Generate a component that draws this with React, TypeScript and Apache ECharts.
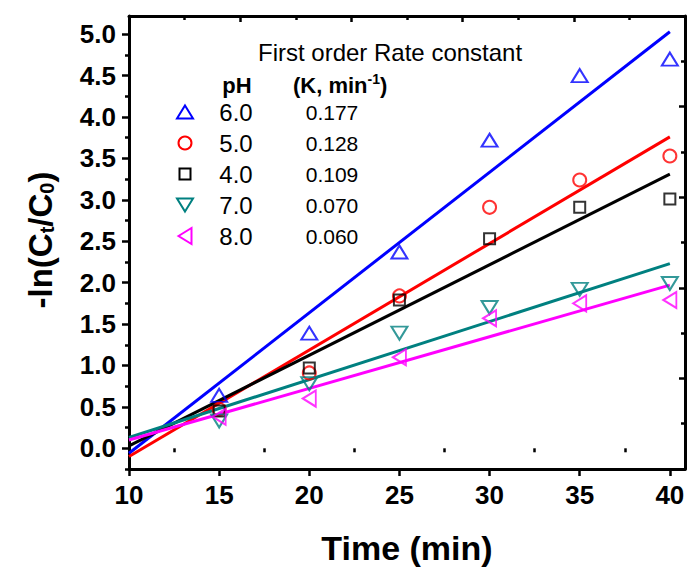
import React, { useEffect, useRef } from 'react';
import * as echarts from 'echarts';

// ---- data ----
const timeMin = [15, 20, 25, 30, 35, 40];
const phLabels = ['6.0', '5.0', '4.0', '7.0', '8.0'];
const rateLabels = ['0.177', '0.128', '0.109', '0.070', '0.060'];
const ph6 = [0.64, 1.39, 2.37, 3.72, 4.5, 4.7];
const ph5 = [0.47, 0.91, 1.84, 2.91, 3.24, 3.53];
const ph4 = [0.45, 0.97, 1.79, 2.53, 2.91, 3.01];
const ph7 = [0.33, 0.78, 1.39, 1.7, 1.92, 1.99];
const ph8 = [0.38, 0.6, 1.1, 1.57, 1.75, 1.79];
const fitX = [10, 40];
const fitStart = [-0.06, -0.1, 0.03, 0.13, 0.1];
const fitEnd = [5.03, 3.76, 3.31, 2.23, 1.97];
const xMajor = [10, 15, 20, 25, 30, 35, 40];
const xMinor = [12.5, 17.5, 22.5, 27.5, 32.5, 37.5];
const yMajor = [0, 0.5, 1, 1.5, 2, 2.5, 3, 3.5, 4, 4.5, 5];
const yMinor = [-0.25, 0.25, 0.75, 1.25, 1.75, 2.25, 2.75, 3.25, 3.75, 4.25, 4.75];

const seriesValues = [ph6, ph5, ph4, ph7, ph8];
const colors = ['#0000FF', '#FF0000', '#000000', '#008080', '#FF00FF'];
const symbols = ['triangle', 'circle', 'rect', 'triangle', 'triangle'];
const symbolSizes: any[] = [[16, 13], 13, 11, [16, 13], [16, 13]];
const symbolRotates = [0, 0, 0, 180, 90];

const FONT = '"Liberation Sans", Arial, Helvetica, sans-serif';

function legendMarker(kind: number, cx: number, cy: number, color: string) {
  const style = { fill: 'none', stroke: color, lineWidth: 2 };
  if (kind === 1) return { type: 'circle', shape: { cx, cy, r: 6.5 }, style };
  if (kind === 2) return { type: 'rect', shape: { x: cx - 5.5, y: cy - 5.5, width: 11, height: 11 }, style };
  let pts: number[][];
  if (kind === 0) pts = [[cx, cy - 6.5], [cx + 8, cy + 6.5], [cx - 8, cy + 6.5]];
  else if (kind === 3) pts = [[cx, cy + 6.5], [cx + 8, cy - 6.5], [cx - 8, cy - 6.5]];
  else pts = [[cx - 6.5, cy], [cx + 6.5, cy - 8], [cx + 6.5, cy + 8]];
  return { type: 'polygon', shape: { points: pts }, style };
}

export default function App() {
  const ref = useRef<HTMLDivElement>(null);
  useEffect(() => {
    const chart = echarts.init(ref.current!, null, { renderer: 'svg' });
    const gridBox = { left: 129, top: 16, width: 556, height: 453 };
    const axisLine = { show: true, onZero: false, lineStyle: { color: '#000', width: 3 } };

    const series: any[] = [];
    seriesValues.forEach((vals, i) => {
      series.push({
        type: 'line',
        name: 'fit ' + phLabels[i],
        xAxisIndex: 0,
        yAxisIndex: 0,
        data: [[fitX[0], fitStart[i]], [fitX[1], fitEnd[i]]],
        showSymbol: false,
        symbol: 'none',
        lineStyle: { color: colors[i], width: 3 },
        z: 2,
      });
    });
    seriesValues.forEach((vals, i) => {
      series.push({
        type: 'scatter',
        name: 'pH ' + phLabels[i],
        xAxisIndex: 0,
        yAxisIndex: 0,
        data: timeMin.map((t, k) => [t, vals[k]]),
        symbol: symbols[i],
        symbolSize: symbolSizes[i],
        symbolRotate: symbolRotates[i],
        itemStyle: { color: 'rgba(0,0,0,0)', borderColor: colors[i], borderWidth: 2 },
        z: 3,
      });
    });

    const rowY = [112, 143, 174, 205, 236];
    const graphics: any[] = [
      {
        type: 'text', x: 258, y: 52,
        style: { text: 'First order Rate constant', font: `24px ${FONT}`, fill: '#000', verticalAlign: 'middle' },
      },
      {
        type: 'text', x: 237, y: 85,
        style: { text: 'pH', font: `bold 22px ${FONT}`, fill: '#000', align: 'center', verticalAlign: 'middle' },
      },
      {
        type: 'text', x: 293, y: 85,
        style: {
          text: '(K, min{sup|-1})', fill: '#000', verticalAlign: 'middle',
          fontFamily: FONT, fontSize: 22, fontWeight: 'bold', lineHeight: 26,
          rich: { sup: { fontFamily: FONT, fontSize: 14, fontWeight: 'bold', lineHeight: 14, padding: [0, 0, 12, 0], verticalAlign: 'top' } },
        },
      },
      {
        type: 'text', x: 407, y: 548,
        style: { text: 'Time (min)', font: `bold 34px ${FONT}`, fill: '#000', align: 'center', verticalAlign: 'middle' },
      },
      {
        type: 'text', x: 40, y: 240, rotation: Math.PI / 2,
        style: {
          text: '-ln(C{sub|t}/C{sub|0})', fill: '#000', align: 'center', verticalAlign: 'middle',
          fontFamily: FONT, fontSize: 33, fontWeight: 'bold', lineHeight: 34,
          rich: { sub: { fontFamily: FONT, fontSize: 20, fontWeight: 'bold', lineHeight: 20, padding: [16, 0, 0, 0], verticalAlign: 'bottom' } },
        },
      },
    ];
    phLabels.forEach((p, i) => {
      graphics.push(legendMarker(i, 185, rowY[i], colors[i]));
      graphics.push({
        type: 'text', x: 236, y: rowY[i],
        style: { text: p, font: `24px ${FONT}`, fill: '#000', align: 'center', verticalAlign: 'middle' },
      });
      graphics.push({
        type: 'text', x: 332, y: rowY[i],
        style: { text: rateLabels[i], font: `21px ${FONT}`, fill: '#000', align: 'center', verticalAlign: 'middle' },
      });
    });

    const option: any = {
      animation: false,
      backgroundColor: '#fff',
      grid: [
        { ...gridBox, containLabel: false },
        { ...gridBox, containLabel: false },
      ],
      xAxis: [
        {
          gridIndex: 0, type: 'value', position: 'bottom', min: 10, max: 40.84,
          axisLine,
          axisTick: { show: true, customValues: xMajor, length: 7, lineStyle: { color: '#000', width: 2.5 } },
          axisLabel: { customValues: xMajor, color: '#000', fontSize: 26, fontWeight: 'bold', fontFamily: FONT, margin: 13 },
          splitLine: { show: false },
        },
        {
          gridIndex: 0, type: 'value', position: 'top', min: 0, max: 10, interval: 2,
          axisLine,
          axisTick: { show: true, inside: true, length: 6, lineStyle: { color: '#000', width: 2.5 } },
          minorTick: { show: true, splitNumber: 2, length: 4, lineStyle: { color: '#000', width: 2.5 } },
          axisLabel: { show: false },
          splitLine: { show: false },
          minorSplitLine: { show: false },
        },
        {
          gridIndex: 1, type: 'value', position: 'bottom', min: 10, max: 40.84,
          axisLine: { show: false },
          axisTick: { show: true, customValues: xMinor, length: 4, lineStyle: { color: '#000', width: 2.5 } },
          axisLabel: { show: false },
          splitLine: { show: false },
        },
      ],
      yAxis: [
        {
          gridIndex: 0, type: 'value', position: 'left', min: -0.25, max: 5.22,
          axisLine,
          axisTick: { show: true, customValues: yMajor, length: 7, lineStyle: { color: '#000', width: 2.5 } },
          axisLabel: {
            customValues: yMajor, color: '#000', fontSize: 26, fontWeight: 'bold', fontFamily: FONT, margin: 13,
            formatter: (v: number) => v.toFixed(1),
          },
          splitLine: { show: false },
        },
        {
          gridIndex: 0, type: 'value', position: 'right', min: 0, max: 10, interval: 2,
          axisLine,
          axisTick: { show: true, inside: true, length: 6, lineStyle: { color: '#000', width: 2.5 } },
          minorTick: { show: true, splitNumber: 2, length: 4, lineStyle: { color: '#000', width: 2.5 } },
          axisLabel: { show: false },
          splitLine: { show: false },
          minorSplitLine: { show: false },
        },
        {
          gridIndex: 1, type: 'value', position: 'left', min: -0.25, max: 5.22,
          axisLine: { show: false },
          axisTick: { show: true, customValues: yMinor, length: 4, lineStyle: { color: '#000', width: 2.5 } },
          axisLabel: { show: false },
          splitLine: { show: false },
        },
      ],
      series,
      graphic: { elements: graphics },
    };
    chart.setOption(option);
    return () => chart.dispose();
  }, []);
  return (
    <div
      ref={ref}
      style={{ position: 'fixed', left: 0, top: 0, width: 690, height: 570, background: '#fff' }}
    />
  );
}
